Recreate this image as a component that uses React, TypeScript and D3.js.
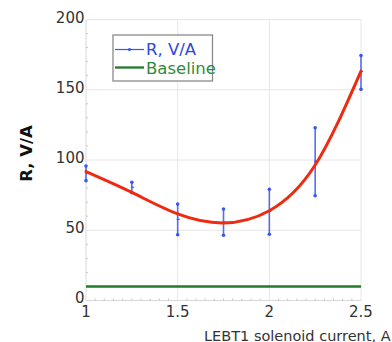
import React from "react";
import * as d3 from "d3";

const currents = [1, 1.25, 1.5, 1.75, 2, 2.25, 2.5];
const rMean = [91, 80.6, 57.8, 56, 63.5, 99, 163];
const rLow = [85.3, 76.7, 46.8, 46.4, 47.1, 74.6, 150.3];
const rHigh = [95.7, 84.1, 68.7, 65.1, 79.1, 123, 174.4];
const fitX = [1, 1.25, 1.5, 1.75, 2, 2.25, 2.5];
const fitY = [91.7, 76.9, 61.6, 55.2, 63.9, 96.4, 163.3];
const baselineX = [1, 2.5];
const baselineY = [10, 10];
const xTicks = [1, 1.5, 2, 2.5];
const xTickLabels = ["1", "1.5", "2", "2.5"];
const yTicks = [0, 50, 100, 150, 200];
const yTickLabels = ["0", "50", "100", "150", "200"];
const xTitle = "LEBT1 solenoid current, A";
const yTitle = "R, V/A";
const legendLabels = ["R, V/A", "Baseline"];

const FONT = "'DejaVu Sans', Verdana, sans-serif";
const BLUE = "#3a55f0";
const RED = "#ee2a10";
const GREEN = "#237a2a";

export default function App() {
  const x = d3.scaleLinear().domain([1, 2.5]).range([86, 361]);
  const y = d3.scaleLinear().domain([0, 200]).range([300.5, 19.5]);

  const minorY = d3.range(0, 201, 10).filter((v) => v % 50 !== 0);
  const minorX = d3.range(1, 2.5001, 0.05).filter((v) => Math.abs(v * 2 - Math.round(v * 2)) > 1e-6);

  const fitLine = d3
    .line<number>()
    .x((_, i) => x(fitX[i]))
    .y((d) => y(d))
    .curve(d3.curveNatural);
  const baseLine = d3
    .line<number>()
    .x((_, i) => x(baselineX[i]))
    .y((d) => y(d));

  return (
    <svg
      width={392}
      height={342}
      style={{ position: "absolute", left: 0, top: 0, background: "#fff" }}
      fontFamily={FONT}
    >
      {/* grid */}
      {yTicks.filter((v) => v > 0).map((v) => (
        <line key={"gy" + v} x1={x(1)} x2={x(2.5)} y1={y(v)} y2={y(v)} stroke="#e6e6e6" strokeWidth={1} />
      ))}
      {xTicks.filter((v) => v > 1).map((v) => (
        <line key={"gx" + v} x1={x(v)} x2={x(v)} y1={y(0)} y2={y(200)} stroke="#e6e6e6" strokeWidth={1} />
      ))}
      {/* axes */}
      <line x1={x(1)} x2={x(1)} y1={y(0)} y2={y(200)} stroke="#d8d8d8" strokeWidth={1} />
      <line x1={x(1)} x2={x(2.5)} y1={y(0)} y2={y(0)} stroke="#d8d8d8" strokeWidth={1} />
      {minorY.map((v) => (
        <line key={"my" + v} x1={x(1)} x2={x(1) + 2} y1={y(v)} y2={y(v)} stroke="#c8c8c8" strokeWidth={1} />
      ))}
      {minorX.map((v, i) => (
        <line key={"mx" + i} x1={x(v)} x2={x(v)} y1={y(0)} y2={y(0) - 2} stroke="#c8c8c8" strokeWidth={1} />
      ))}
      {/* tick labels */}
      {yTicks.map((v, i) => (
        <text key={"ty" + v} x={x(1) - 1.5} y={y(v) + (v === 0 ? 2 : 3)} textAnchor="end" fontSize={15} fill="#333">
          {yTickLabels[i]}
        </text>
      ))}
      {xTicks.map((v, i) => (
        <text key={"tx" + v} x={x(v)} y={316.5} textAnchor="middle" fontSize={15} fill="#333">
          {xTickLabels[i]}
        </text>
      ))}
      <text x={204} y={340.5} fontSize={14.5} fill="#333">
        {xTitle}
      </text>
      <text
        transform={`translate(32,153.5) rotate(-90)`}
        textAnchor="middle"
        fontSize={16.5}
        fontWeight="bold"
        fill="#111"
      >
        {yTitle}
      </text>
      {/* baseline */}
      <path d={baseLine(baselineY) || ""} fill="none" stroke={GREEN} strokeWidth={2.5} />
      {/* error bars */}
      {currents.map((c, i) => (
        <g key={"eb" + i}>
          <line x1={x(c)} x2={x(c)} y1={y(rLow[i])} y2={y(rHigh[i])} stroke={BLUE} strokeWidth={1.6} opacity={0.85} />
          <circle cx={x(c)} cy={y(rLow[i])} r={1.8} fill={BLUE} />
          <circle cx={x(c)} cy={y(rHigh[i])} r={1.8} fill={BLUE} />
          <line x1={x(c) - 1} x2={x(c) + 2} y1={y(rMean[i])} y2={y(rMean[i])} stroke={BLUE} strokeWidth={1.3} />
        </g>
      ))}
      {/* fit curve */}
      <path d={fitLine(fitY) || ""} fill="none" stroke={RED} strokeWidth={3} strokeLinecap="round" />
      {/* legend */}
      <rect x={113} y={35} width={99.5} height={46} fill="#fff" stroke="#8a8a8a" strokeWidth={1.3} />
      <line x1={115} x2={144} y1={49.5} y2={49.5} stroke={BLUE} strokeWidth={1.2} />
      <circle cx={129.5} cy={49.5} r={1.6} fill={BLUE} />
      <text x={146} y={55} fontSize={16.5} fill="#2f46e0">
        {legendLabels[0]}
      </text>
      <line x1={115} x2={144} y1={67.5} y2={67.5} stroke={GREEN} strokeWidth={2.3} />
      <text x={146} y={73.5} fontSize={16.5} fill="#2f8a3a">
        {legendLabels[1]}
      </text>
    </svg>
  );
}
